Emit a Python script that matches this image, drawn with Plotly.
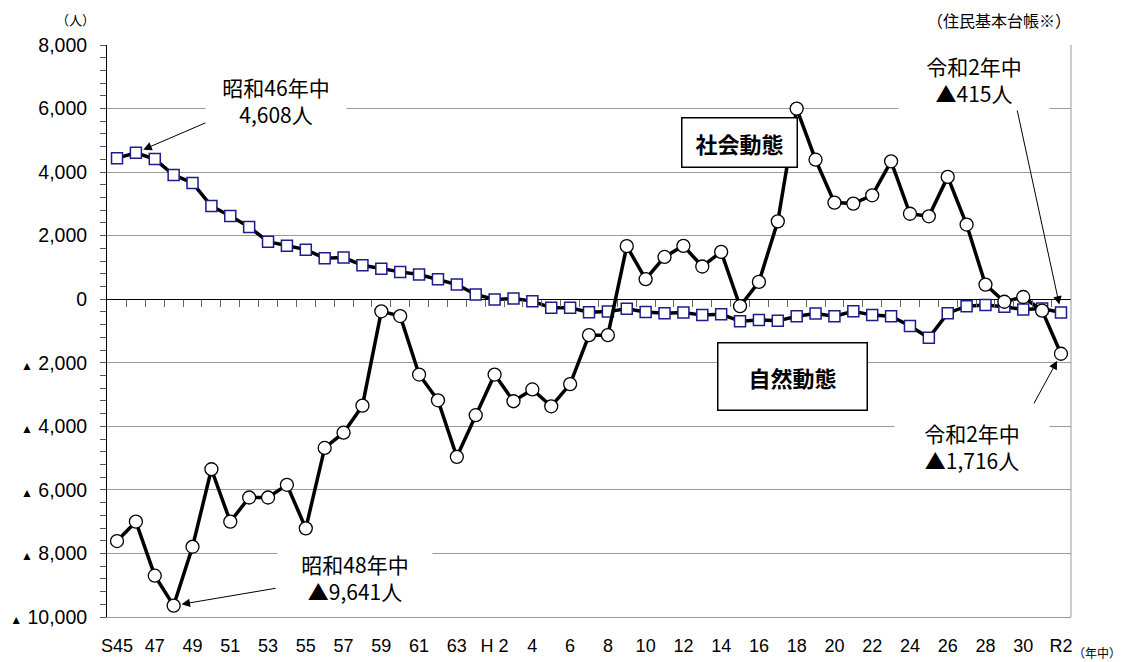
import plotly.graph_objects as go

# ---- data ----
years_idx = list(range(51))  # S45 (1970) ... R2 (2020)
tick_pos = list(range(0, 51, 2))
tick_labels = ["S45", "47", "49", "51", "53", "55", "57", "59", "61", "63",
               "H 2", "4", "6", "8", "10", "12", "14", "16", "18", "20",
               "22", "24", "26", "28", "30", "R2"]

natural = [4440, 4608, 4410, 3910, 3660, 2930, 2620, 2275, 1810, 1680,
           1560, 1290, 1310, 1070, 960, 860, 780, 630, 460,
           150, -10, 20, -60, -270, -270, -410, -390, -300, -400,
           -440, -420, -500, -470, -690, -650, -680, -535, -450, -535,
           -380, -500, -535, -840, -1215, -440, -220, -180, -240, -325,
           -295, -415]

social = [-7610, -7000, -8700, -9641, -7790, -5350, -7000, -6240, -6240, -5840,
          -7210, -4680, -4200, -3350, -380, -530, -2370, -3180, -4960,
          -3650, -2370, -3210, -2840, -3370, -2670, -1130, -1130, 1670, 630,
          1330, 1680, 1030, 1490, -220, 545, 2450, 5996, 4390, 3040,
          3010, 3270, 4340, 2690, 2610, 3850, 2350, 460, -80, 70,
          -360, -1716]

y_ticks = list(range(-10000, 8001, 2000))


def fmt(v):
    if v < 0:
        return "<span style='font-size:12px'>▲</span> " + f"{-v:,}"
    return f"{v:,}"


y_text = [fmt(v) for v in y_ticks]

JP = "Noto Sans CJK JP"
NUM = "Liberation Sans, Arial, Noto Sans CJK JP"

fig = go.Figure()

fig.add_trace(go.Scatter(
    x=years_idx, y=natural, mode="lines+markers", name="自然動態",
    line=dict(color="black", width=3.5),
    marker=dict(symbol="square", size=11, color="white",
                line=dict(color="#1c1c8c", width=1.5)),
    cliponaxis=False,
))
fig.add_trace(go.Scatter(
    x=years_idx, y=social, mode="lines+markers", name="社会動態",
    xaxis="x2", yaxis="y",
    line=dict(color="black", width=3.5),
    marker=dict(symbol="circle", size=13, color="white",
                line=dict(color="black", width=1.3)),
    cliponaxis=False,
))

# page has an 8px body margin: compensate so the plot area sits at
# page x 107..1071, y 45..617
xr = [-0.53, 50.53]
fig.update_layout(
    width=1117, height=654,
    margin=dict(l=99, r=54, t=37, b=45, autoexpand=False),
    paper_bgcolor="white", plot_bgcolor="white",
    showlegend=False,
    font=dict(family=NUM, size=18, color="black"),
    xaxis=dict(
        range=xr, tickmode="array", tickvals=tick_pos, ticktext=tick_labels,
        showgrid=False, zeroline=False, showline=True, linecolor="#999999",
        linewidth=1, ticks="", ticklabelstandoff=12, automargin=False,
        tickfont=dict(family=NUM, size=18),
    ),
    xaxis2=dict(
        range=xr, overlaying="x", anchor="free", position=10000 / 18000,
        side="bottom", showgrid=False, zeroline=False, showline=False,
        tickmode="array", tickvals=[i + 0.5 for i in range(50)],
        ticks="outside", ticklen=7, tickcolor="#666666", tickwidth=1,
        showticklabels=False, automargin=False,
    ),
    yaxis=dict(
        range=[-10000, 8000], tickmode="array", tickvals=y_ticks, ticktext=y_text,
        showgrid=True, gridcolor="#9a9a9a", gridwidth=1,
        zeroline=True, zerolinecolor="black", zerolinewidth=1,
        showline=True, linecolor="black", linewidth=1,
        ticks="outside", ticklen=6, tickcolor="#555555",
        minor=dict(dtick=400, tick0=0, ticks="outside", ticklen=6,
                   tickcolor="#555555", showgrid=False),
        ticklabelstandoff=9, automargin=False,
        tickfont=dict(family=NUM, size=19.5),
    ),
)

# right border of plot area
fig.add_shape(type="line", xref="paper", yref="paper", x0=1, x1=1, y0=0, y1=1,
              line=dict(color="#999999", width=1))


def px_x(p):
    return (p - 107) / 964


def px_y(p):
    return (617 - p) / 572


annots = []
# arrows
for (xi, yv, ax, ay) in [(1, natural[1], 93, -40), (3, social[3], 106, -18),
                         (50, natural[50], -47, -217), (50, social[50], -31, 57)]:
    annots.append(dict(x=xi, y=yv, xref="x", yref="y", ax=ax, ay=ay,
                       text=" ", showarrow=True, arrowhead=2, arrowsize=1.7,
                       arrowwidth=1, arrowcolor="black", standoff=8))

# callout texts
for (txt, cx, cy, w) in [("昭和46年中<br>4,608人", 276, 100, 136),
                         ("昭和48年中<br>▲9,641人", 355, 577, 150),
                         ("令和2年中<br>▲415人", 974, 79, 146),
                         ("令和2年中<br>▲1,716人", 972, 446, 150)]:
    annots.append(dict(x=px_x(cx), y=px_y(cy), xref="paper", yref="paper",
                       xanchor="center", yanchor="middle",
                       text=txt, showarrow=False, bgcolor="white",
                       width=w, align="center", borderpad=2,
                       font=dict(family=JP, size=21, color="black")))

# boxed labels
annots.append(dict(x=px_x(739), y=px_y(142.5), xref="paper", yref="paper",
                   xanchor="center", yanchor="middle",
                   text="<b>社会動態</b>", showarrow=False, bgcolor="white",
                   bordercolor="black", borderwidth=1.5, width=112, height=46,
                   font=dict(family=JP, size=22, color="black")))
annots.append(dict(x=px_x(792.5), y=px_y(376.5), xref="paper", yref="paper",
                   xanchor="center", yanchor="middle",
                   text="<b>自然動態</b>", showarrow=False, bgcolor="white",
                   bordercolor="black", borderwidth=1.5, width=146, height=64,
                   font=dict(family=JP, size=22, color="black")))

# unit labels
annots.append(dict(x=px_x(75), y=px_y(19), xref="paper", yref="paper",
                   xanchor="center", yanchor="middle", borderpad=0,
                   text="（人）", showarrow=False,
                   font=dict(family=JP, size=13, color="black")))
annots.append(dict(x=px_x(1072), y=px_y(20), xref="paper", yref="paper",
                   xanchor="right", yanchor="middle", borderpad=0,
                   text="（住民基本台帳※）", showarrow=False,
                   font=dict(family=JP, size=16, color="black")))
annots.append(dict(x=px_x(1097), y=px_y(652), xref="paper", yref="paper",
                   xanchor="center", yanchor="middle",
                   text="（年中）", showarrow=False,
                   font=dict(family=JP, size=12, color="black")))

fig.update_layout(annotations=annots)

fig.write_html("out.html")
